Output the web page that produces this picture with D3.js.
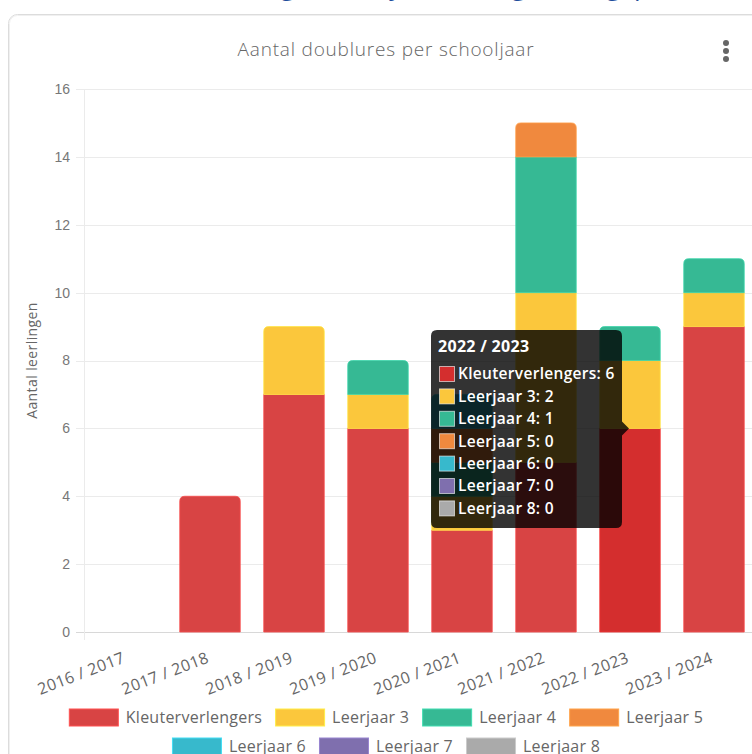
<!DOCTYPE html>
<html>
<head>
<meta charset="utf-8">
<script src="https://cdn.jsdelivr.net/npm/d3@7"></script>
<style>
  html, body { margin: 0; padding: 0; background: #fff; overflow: hidden; }
  svg { display: block; }
</style>
</head>
<body>
<div id="chart"></div>
<script>
// Aantal doublures per schooljaar — gestapelde staafgrafiek

const categories = ['2016 / 2017', '2017 / 2018', '2018 / 2019', '2019 / 2020',
  '2020 / 2021', '2021 / 2022', '2022 / 2023', '2023 / 2024'];
const seriesNames = ['Kleuterverlengers', 'Leerjaar 3', 'Leerjaar 4', 'Leerjaar 5',
  'Leerjaar 6', 'Leerjaar 7', 'Leerjaar 8'];
const kleuterverlengers = [0, 4, 7, 6, 3, 5, 6, 9];
const leerjaar3 = [0, 0, 2, 1, 1, 5, 2, 1];
const leerjaar4 = [0, 0, 0, 1, 1, 4, 1, 1];
const leerjaar5 = [0, 0, 0, 0, 1, 1, 0, 0];
const leerjaar6 = [0, 0, 0, 0, 1, 0, 0, 0];
const leerjaar7 = [0, 0, 0, 0, 0, 0, 0, 0];
const leerjaar8 = [0, 0, 0, 0, 0, 0, 0, 0];
const yTicks = [0, 2, 4, 6, 8, 10, 12, 14, 16];
const colors = ['#d84444', '#fbc73c', '#36b994', '#f0893e', '#37b9cc', '#7f6fae', '#aaaaaa'];
const hoverRed = '#d42e2e';
const hoverIndex = 6;

const W = 752, H = 754;
const margin = { top: 89, left: 84, right: -4, bottom: 122 };
const uiFont = '"Open Sans", "Noto Sans", sans-serif';
const tickFont = '"Liberation Sans", Arial, sans-serif';

const values = [kleuterverlengers, leerjaar3, leerjaar4, leerjaar5, leerjaar6, leerjaar7, leerjaar8];
const rows = categories.map((c, i) => {
  const r = { cat: c };
  seriesNames.forEach((s, k) => { r[s] = values[k][i]; });
  return r;
});
const stacked = d3.stack().keys(seriesNames)(rows);

const svg = d3.select('#chart').append('svg')
  .attr('width', W).attr('height', H)
  .style('font-family', uiFont);

// pagina-kop (afgesneden bovenaan)
svg.append('text')
  .attr('x', 400).attr('y', -5)
  .attr('text-anchor', 'middle')
  .attr('fill', '#1f4e9c')
  .style('font-size', '26px')
  .text('Overzicht doublures volgens leerjaar en begeleiding, per schooljaar');

// kaart
svg.append('rect')
  .attr('x', 8.5).attr('y', 14.5)
  .attr('width', 900).attr('height', 900)
  .attr('rx', 9)
  .attr('fill', '#fff')
  .attr('stroke', '#dcdcdc');
svg.append('rect')
  .attr('x', 9.5).attr('y', 15.5)
  .attr('width', 900).attr('height', 900)
  .attr('rx', 8)
  .attr('fill', 'none')
  .attr('stroke', '#f0f0f0');

// titel
svg.append('text')
  .attr('x', 386).attr('y', 56)
  .attr('text-anchor', 'middle')
  .attr('fill', '#666')
  .style('font-size', '19px')
  .style('font-weight', 300)
  .style('letter-spacing', '0.8px')
  .text('Aantal doublures per schooljaar');

// menu-icoon
svg.append('g').selectAll('circle')
  .data([0, 1, 2]).join('circle')
  .attr('cx', 726).attr('cy', d => 43 + d * 8)
  .attr('r', 3)
  .attr('fill', '#666');

const x = d3.scaleBand()
  .domain(categories)
  .range([margin.left, W - margin.right])
  .paddingInner(0.28)
  .paddingOuter(0.14);
const y = d3.scaleLinear()
  .domain([0, 16])
  .range([H - margin.bottom, margin.top]);

// rasterlijnen
svg.append('g').selectAll('line')
  .data(yTicks).join('line')
  .attr('x1', margin.left - 8).attr('x2', W)
  .attr('y1', d => Math.round(y(d)) + 0.5).attr('y2', d => Math.round(y(d)) + 0.5)
  .attr('stroke', d => d === 0 ? '#d8d8d8' : '#ebebeb');
svg.append('line')
  .attr('x1', margin.left + 0.5).attr('x2', margin.left + 0.5)
  .attr('y1', y(16)).attr('y2', y(0) + 8)
  .attr('stroke', '#ebebeb');

// y-as labels
const yAxis = d3.axisLeft(y).tickValues(yTicks).tickSize(0).tickPadding(14);
const gy = svg.append('g')
  .attr('transform', `translate(${margin.left},0)`)
  .call(yAxis);
gy.select('.domain').remove();
gy.selectAll('text')
  .attr('fill', '#777')
  .style('font-family', tickFont)
  .style('font-size', '14px');

svg.append('text')
  .attr('transform', `translate(37,${(y(0) + y(16)) / 2}) rotate(-90)`)
  .attr('text-anchor', 'middle')
  .attr('fill', '#666')
  .style('font-size', '14px')
  .style('letter-spacing', '0.4px')
  .text('Aantal leerlingen');

// x-as labels
const xAxis = d3.axisBottom(x).tickSize(0).tickPadding(0);
const gx = svg.append('g')
  .attr('transform', `translate(0,${y(0)})`)
  .call(xAxis);
gx.select('.domain').remove();
gx.selectAll('text')
  .attr('fill', '#666')
  .attr('text-anchor', 'end')
  .attr('dy', '0')
  .attr('y', 0)
  .attr('transform', 'translate(0,30) rotate(-21)')
  .style('font-family', uiFont)
  .style('font-size', '16px')
  .style('letter-spacing', '0.4px');

// staven
function topPath(x0, y0, w, h, r) {
  r = Math.min(r, h, w / 2);
  return `M${x0},${y0 + h}V${y0 + r}Q${x0},${y0} ${x0 + r},${y0}` +
    `H${x0 + w - r}Q${x0 + w},${y0} ${x0 + w},${y0 + r}V${y0 + h}Z`;
}
const topKey = categories.map((c, i) => {
  let k = -1;
  values.forEach((v, s) => { if (v[i] > 0) k = s; });
  return k;
});

stacked.forEach((layer, s) => {
  svg.append('g').selectAll('path')
    .data(layer.map((d, i) => ({ d, i })).filter(o => o.d[1] > o.d[0]))
    .join('path')
    .attr('d', o => {
      const x0 = x(categories[o.i]);
      const y0 = y(o.d[1]);
      const h = y(o.d[0]) - y0;
      const r = topKey[o.i] === s ? 5 : 0;
      return topPath(x0, y0, x.bandwidth(), h, r);
    })
    .attr('fill', o => (s === 0 && o.i === hoverIndex) ? hoverRed : colors[s])
    .attr('stroke', o => d3.color((s === 0 && o.i === hoverIndex) ? hoverRed : colors[s]).brighter(0.4))
    .attr('stroke-width', 0.8);
});

// legenda
const legend = svg.append('g')
  .style('font-size', '16px')
  .style('letter-spacing', '0.25px')
  .attr('fill', '#666');
const boxW = 49, boxH = 17, gap = 8, itemGap = 13;
const measure = legend.append('text').attr('visibility', 'hidden');
const items = seriesNames.map((n, i) => {
  measure.text(n);
  return { n, i, w: boxW + gap + measure.node().getComputedTextLength() };
});
measure.remove();
const legendRows = [items.slice(0, 4), items.slice(4)];
legendRows.forEach((row, r) => {
  const total = d3.sum(row, d => d.w) + itemGap * (row.length - 1);
  let cx = 386 - total / 2;
  const cy = 717 + r * 29;
  row.forEach(it => {
    legend.append('rect')
      .attr('x', cx + 0.5).attr('y', cy - boxH / 2 + 0.5)
      .attr('width', boxW).attr('height', boxH)
      .attr('fill', colors[it.i])
      .attr('stroke', d3.color(colors[it.i]).brighter(0.5));
    legend.append('text')
      .attr('x', cx + boxW + gap).attr('y', cy)
      .attr('dy', '0.35em')
      .text(it.n);
    cx += it.w + itemGap;
  });
});

// tooltip
const tt = svg.append('g');
const tx = 431, ty = 330, tw = 191, th = 198;
const caretY = y(kleuterverlengers[hoverIndex]);
tt.append('path')
  .attr('d', `M${tx + 6},${ty}H${tx + tw - 6}Q${tx + tw},${ty} ${tx + tw},${ty + 6}` +
    `V${caretY - 7}L${tx + tw + 7},${caretY}L${tx + tw},${caretY + 7}` +
    `V${ty + th - 6}Q${tx + tw},${ty + th} ${tx + tw - 6},${ty + th}` +
    `H${tx + 6}Q${tx},${ty + th} ${tx},${ty + th - 6}V${ty + 6}Q${tx},${ty} ${tx + 6},${ty}Z`)
  .attr('fill', 'rgba(0,0,0,0.8)');
tt.append('text')
  .attr('x', tx + 7).attr('y', ty + 22)
  .attr('fill', '#fff')
  .style('font-size', '16px')
  .style('font-weight', 700)
  .style('letter-spacing', '0.3px')
  .text(categories[hoverIndex]);
seriesNames.forEach((n, s) => {
  const ry = ty + 36 + s * 22.4;
  tt.append('rect')
    .attr('x', tx + 8.5).attr('y', ry + 0.5)
    .attr('width', 15).attr('height', 15)
    .attr('fill', (s === 0) ? hoverRed : colors[s])
    .attr('stroke', 'rgba(255,255,255,0.6)');
  tt.append('text')
    .attr('x', tx + 27).attr('y', ry + 8)
    .attr('dy', '0.35em')
    .attr('fill', '#fff')
    .style('font-size', '15.5px')
    .style('font-weight', 600)
    .style('letter-spacing', '0.3px')
    .text(`${n}: ${values[s][hoverIndex]}`);
});
</script>
</body>
</html>
